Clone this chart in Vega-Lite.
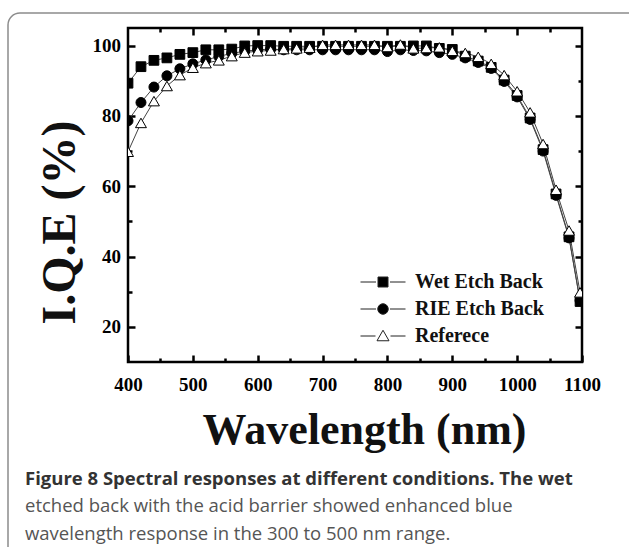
{
  "$schema": "https://vega.github.io/schema/vega-lite/v6.json",
  "width": 454,
  "height": 334,
  "autosize": "none",
  "padding": {"left": 128, "top": 28, "right": 47, "bottom": 185},
  "background": "white",
  "config": {
    "view": {"stroke": "black", "strokeWidth": 2.5},
    "legend": {"strokeWidth": 1.5},
    "axis": {
      "domain": false, "grid": false,
      "labelFont": "Liberation Serif", "labelFontWeight": "bold", "labelFontSize": 19, "labelColor": "black",
      "titleFont": "Liberation Serif", "titleFontWeight": "bold", "titleColor": "#111"
    }
  },
  "datasets": {
    "iqe": [
      {"wl": 400, "s": "Wet Etch Back", "v": 89.3}, {"wl": 420, "s": "Wet Etch Back", "v": 94.0}, {"wl": 440, "s": "Wet Etch Back", "v": 95.8}, {"wl": 460, "s": "Wet Etch Back", "v": 96.5}, {"wl": 480, "s": "Wet Etch Back", "v": 97.5}, {"wl": 500, "s": "Wet Etch Back", "v": 98.0}, {"wl": 520, "s": "Wet Etch Back", "v": 98.8}, {"wl": 540, "s": "Wet Etch Back", "v": 98.8}, {"wl": 560, "s": "Wet Etch Back", "v": 99.0}, {"wl": 580, "s": "Wet Etch Back", "v": 99.9}, {"wl": 600, "s": "Wet Etch Back", "v": 100.0}, {"wl": 620, "s": "Wet Etch Back", "v": 100.0}, {"wl": 640, "s": "Wet Etch Back", "v": 99.8}, {"wl": 660, "s": "Wet Etch Back", "v": 99.8}, {"wl": 680, "s": "Wet Etch Back", "v": 99.8}, {"wl": 700, "s": "Wet Etch Back", "v": 99.8}, {"wl": 720, "s": "Wet Etch Back", "v": 99.8}, {"wl": 740, "s": "Wet Etch Back", "v": 99.8}, {"wl": 760, "s": "Wet Etch Back", "v": 99.8}, {"wl": 780, "s": "Wet Etch Back", "v": 99.8}, {"wl": 800, "s": "Wet Etch Back", "v": 99.8}, {"wl": 820, "s": "Wet Etch Back", "v": 99.8}, {"wl": 840, "s": "Wet Etch Back", "v": 99.9}, {"wl": 860, "s": "Wet Etch Back", "v": 99.9}, {"wl": 880, "s": "Wet Etch Back", "v": 99.2}, {"wl": 900, "s": "Wet Etch Back", "v": 98.9}, {"wl": 920, "s": "Wet Etch Back", "v": 97.0}, {"wl": 940, "s": "Wet Etch Back", "v": 95.6}, {"wl": 960, "s": "Wet Etch Back", "v": 93.8}, {"wl": 980, "s": "Wet Etch Back", "v": 90.2}, {"wl": 1000, "s": "Wet Etch Back", "v": 85.8}, {"wl": 1020, "s": "Wet Etch Back", "v": 79.4}, {"wl": 1040, "s": "Wet Etch Back", "v": 70.4}, {"wl": 1060, "s": "Wet Etch Back", "v": 57.8}, {"wl": 1080, "s": "Wet Etch Back", "v": 45.6}, {"wl": 1097, "s": "Wet Etch Back", "v": 27.2},
      {"wl": 400, "s": "RIE Etch Back", "v": 78.6}, {"wl": 420, "s": "RIE Etch Back", "v": 83.8}, {"wl": 440, "s": "RIE Etch Back", "v": 88.2}, {"wl": 460, "s": "RIE Etch Back", "v": 91.4}, {"wl": 480, "s": "RIE Etch Back", "v": 93.4}, {"wl": 500, "s": "RIE Etch Back", "v": 94.8}, {"wl": 520, "s": "RIE Etch Back", "v": 95.9}, {"wl": 540, "s": "RIE Etch Back", "v": 96.9}, {"wl": 560, "s": "RIE Etch Back", "v": 97.8}, {"wl": 580, "s": "RIE Etch Back", "v": 98.4}, {"wl": 600, "s": "RIE Etch Back", "v": 98.8}, {"wl": 620, "s": "RIE Etch Back", "v": 99.0}, {"wl": 640, "s": "RIE Etch Back", "v": 98.8}, {"wl": 660, "s": "RIE Etch Back", "v": 98.8}, {"wl": 680, "s": "RIE Etch Back", "v": 98.8}, {"wl": 700, "s": "RIE Etch Back", "v": 98.8}, {"wl": 720, "s": "RIE Etch Back", "v": 98.8}, {"wl": 740, "s": "RIE Etch Back", "v": 98.8}, {"wl": 760, "s": "RIE Etch Back", "v": 98.8}, {"wl": 780, "s": "RIE Etch Back", "v": 98.8}, {"wl": 800, "s": "RIE Etch Back", "v": 98.3}, {"wl": 820, "s": "RIE Etch Back", "v": 98.8}, {"wl": 840, "s": "RIE Etch Back", "v": 98.6}, {"wl": 860, "s": "RIE Etch Back", "v": 98.5}, {"wl": 880, "s": "RIE Etch Back", "v": 98.0}, {"wl": 900, "s": "RIE Etch Back", "v": 97.5}, {"wl": 920, "s": "RIE Etch Back", "v": 96.5}, {"wl": 940, "s": "RIE Etch Back", "v": 95.2}, {"wl": 960, "s": "RIE Etch Back", "v": 93.5}, {"wl": 980, "s": "RIE Etch Back", "v": 89.8}, {"wl": 1000, "s": "RIE Etch Back", "v": 85.4}, {"wl": 1020, "s": "RIE Etch Back", "v": 79.0}, {"wl": 1040, "s": "RIE Etch Back", "v": 70.0}, {"wl": 1060, "s": "RIE Etch Back", "v": 57.4}, {"wl": 1080, "s": "RIE Etch Back", "v": 45.3}, {"wl": 1097, "s": "RIE Etch Back", "v": 27.5},
      {"wl": 400, "s": "Referece", "v": 69.8}, {"wl": 420, "s": "Referece", "v": 78.0}, {"wl": 440, "s": "Referece", "v": 84.2}, {"wl": 460, "s": "Referece", "v": 88.5}, {"wl": 480, "s": "Referece", "v": 91.6}, {"wl": 500, "s": "Referece", "v": 93.7}, {"wl": 520, "s": "Referece", "v": 95.0}, {"wl": 540, "s": "Referece", "v": 95.8}, {"wl": 560, "s": "Referece", "v": 97.0}, {"wl": 580, "s": "Referece", "v": 98.0}, {"wl": 600, "s": "Referece", "v": 98.4}, {"wl": 620, "s": "Referece", "v": 98.6}, {"wl": 640, "s": "Referece", "v": 99.0}, {"wl": 660, "s": "Referece", "v": 99.2}, {"wl": 680, "s": "Referece", "v": 99.4}, {"wl": 700, "s": "Referece", "v": 100.2}, {"wl": 720, "s": "Referece", "v": 100.2}, {"wl": 740, "s": "Referece", "v": 100.2}, {"wl": 760, "s": "Referece", "v": 100.2}, {"wl": 780, "s": "Referece", "v": 100.2}, {"wl": 800, "s": "Referece", "v": 99.6}, {"wl": 820, "s": "Referece", "v": 100.3}, {"wl": 840, "s": "Referece", "v": 99.2}, {"wl": 860, "s": "Referece", "v": 99.3}, {"wl": 880, "s": "Referece", "v": 99.5}, {"wl": 900, "s": "Referece", "v": 98.5}, {"wl": 920, "s": "Referece", "v": 97.9}, {"wl": 940, "s": "Referece", "v": 96.8}, {"wl": 960, "s": "Referece", "v": 94.8}, {"wl": 980, "s": "Referece", "v": 91.6}, {"wl": 1000, "s": "Referece", "v": 87.0}, {"wl": 1020, "s": "Referece", "v": 81.0}, {"wl": 1040, "s": "Referece", "v": 72.0}, {"wl": 1060, "s": "Referece", "v": 59.0}, {"wl": 1080, "s": "Referece", "v": 47.4}, {"wl": 1097, "s": "Referece", "v": 29.8}
    ]
  },
  "data": {"name": "iqe"},
  "title": {
    "text": ["Figure 8 Spectral responses at different conditions. The wet"],
    "subtitle": ["etched back with the acid barrier showed enhanced blue", "wavelength response in the 300 to 500 nm range."],
    "orient": "bottom",
    "anchor": "start",
    "frame": "group",
    "dx": -103,
    "offset": -175,
    "font": "Open Sans",
    "fontSize": 18.5,
    "fontWeight": "bold",
    "color": "#333",
    "subtitleFont": "Open Sans",
    "subtitleFontSize": 18.5,
    "subtitleFontWeight": "normal",
    "subtitleColor": "#555",
    "subtitleLineHeight": 27.5,
    "subtitlePadding": 9
  },
  "resolve": {"axis": {"x": "independent", "y": "independent"}},
  "layer": [
    {
      "transform": [{"filter": "datum.s === 'Wet Etch Back'"}],
      "mark": {"type": "line", "stroke": "#444", "strokeWidth": 1, "clip": true},
      "encoding": {
        "x": {"field": "wl", "type": "quantitative", "scale": {"domain": [400, 1100], "nice": false, "zero": false},
          "axis": {"orient": "bottom", "values": [400, 500, 600, 700, 800, 900, 1000, 1100], "format": "d", "offset": -7, "ticks": true, "tickSize": 7, "tickColor": "black", "tickWidth": 2.5, "labelPadding": 13,
            "title": "Wavelength (nm)", "titleFontSize": 44, "titleX": 236, "titleY": 88, "titleAlign": "center", "titleBaseline": "alphabetic", "labelFlush": false}},
        "y": {"field": "v", "type": "quantitative", "scale": {"domain": [10, 105], "nice": false, "zero": false},
          "axis": {"orient": "left", "values": [20, 40, 60, 80, 100], "offset": -7, "ticks": true, "tickSize": 7, "tickColor": "black", "tickWidth": 2.5, "labelPadding": 7.5,
            "title": "I.Q.E (%)", "titleFontSize": 48, "titleX": -75, "titleY": 194, "titleAngle": -90, "titleAlign": "center", "titleBaseline": "middle", "labelFlush": false}}
      }
    },
    {
      "transform": [{"filter": "datum.s === 'RIE Etch Back'"}],
      "mark": {"type": "line", "stroke": "#444", "strokeWidth": 1, "clip": true},
      "encoding": {
        "x": {"field": "wl", "type": "quantitative",
          "axis": {"orient": "bottom", "values": [450, 550, 650, 750, 850, 950, 1050], "offset": -4, "ticks": true, "tickSize": 4, "tickColor": "black", "tickWidth": 2.5, "labels": false, "title": null}},
        "y": {"field": "v", "type": "quantitative",
          "axis": {"orient": "left", "values": [30, 50, 70, 90], "offset": -4, "ticks": true, "tickSize": 4, "tickColor": "black", "tickWidth": 2.5, "labels": false, "title": null}}
      }
    },
    {
      "transform": [{"filter": "datum.s === 'Referece'"}],
      "mark": {"type": "line", "stroke": "#444", "strokeWidth": 1, "clip": true},
      "encoding": {
        "x": {"field": "wl", "type": "quantitative",
          "axis": {"orient": "top", "values": [450, 550, 650, 750, 850, 950, 1050], "offset": -4, "ticks": true, "tickSize": 4, "tickColor": "black", "tickWidth": 2.5, "labels": false, "title": null}},
        "y": {"field": "v", "type": "quantitative",
          "axis": {"orient": "right", "values": [30, 50, 70, 90], "offset": -4, "ticks": true, "tickSize": 4, "tickColor": "black", "tickWidth": 2.5, "labels": false, "title": null}}
      }
    },
    {
      "transform": [{"filter": "datum.s === 'Wet Etch Back'"}],
      "mark": {"type": "point", "shape": "square", "filled": true, "fill": "black", "stroke": "black", "strokeWidth": 1, "opacity": 1, "size": 95, "clip": true},
      "encoding": {
        "x": {"field": "wl", "type": "quantitative",
          "axis": {"orient": "top", "values": [500, 600, 700, 800, 900, 1000], "offset": -7, "ticks": true, "tickSize": 7, "tickColor": "black", "tickWidth": 2.5, "labels": false, "title": null}},
        "y": {"field": "v", "type": "quantitative",
          "axis": {"orient": "right", "values": [20, 40, 60, 80, 100], "offset": -7, "ticks": true, "tickSize": 7, "tickColor": "black", "tickWidth": 2.5, "labels": false, "title": null}}
      }
    },
    {
      "transform": [{"filter": "datum.s === 'RIE Etch Back'"}],
      "mark": {"type": "point", "shape": "circle", "filled": true, "fill": "black", "stroke": "black", "strokeWidth": 1, "opacity": 1, "size": 100, "clip": true},
      "encoding": {
        "x": {"field": "wl", "type": "quantitative", "axis": null},
        "y": {"field": "v", "type": "quantitative", "axis": null}
      }
    },
    {
      "transform": [{"filter": "datum.s === 'Referece'"}],
      "mark": {"type": "point", "shape": "triangle-up", "filled": true, "fill": "white", "stroke": "black", "strokeWidth": 1, "opacity": 1, "size": 120, "clip": true},
      "encoding": {
        "x": {"field": "wl", "type": "quantitative", "axis": null},
        "y": {"field": "v", "type": "quantitative", "axis": null}
      }
    },
    {
      "transform": [{"filter": "false"}],
      "mark": {"type": "point", "filled": false, "stroke": "#222", "strokeWidth": 1, "opacity": 1},
      "encoding": {
        "x": {"field": "wl", "type": "quantitative", "axis": null},
        "y": {"field": "v", "type": "quantitative", "axis": null},
        "shape": {"field": "s", "type": "nominal",
          "scale": {"domain": ["Wet Etch Back", "RIE Etch Back", "Referece"],
            "range": ["M-4.5,0H-1.4M-1,-1H1V1H-1ZM1.4,0H4.5", "M-4.5,0H-1.4M1.4,0H4.5M-1.05,0A1.05,1.05,0,1,1,1.05,0A1.05,1.05,0,1,1,-1.05,0Z", "M-4.5,0H-1.5M1.5,0H4.5M0,-1.15L1.2,0.95H-1.2Z"]},
          "legend": {
            "title": null, "orient": "none", "legendX": 245, "legendY": 244, "padding": 0,
            "symbolSize": 100, "symbolStrokeWidth": 1,
            "labelFont": "Liberation Serif", "labelFontWeight": "bold", "labelFontSize": 20, "labelColor": "#111",
            "labelOffset": 22, "rowPadding": 7, "labelLimit": 300
          }},
        "fill": {"field": "s", "type": "nominal",
          "scale": {"domain": ["Wet Etch Back", "RIE Etch Back", "Referece"], "range": ["black", "black", "white"]}}
      }
    },
    {
      "transform": [{"filter": "false"}],
      "mark": {"type": "line", "strokeWidth": 1},
      "encoding": {
        "x": {"field": "wl", "type": "quantitative", "axis": null},
        "y": {"field": "v", "type": "quantitative", "axis": null},
        "strokeDash": {"field": "s", "type": "nominal",
          "scale": {"domain": ["box"], "range": [[1, 0]]},
          "legend": {
            "title": null, "orient": "none", "legendX": -120, "legendY": -15, "padding": 315,
            "strokeColor": "#8c8c8c", "cornerRadius": 12,
            "labelExpr": "''", "labelFontSize": 1, "symbolOpacity": 0, "symbolSize": 1, "symbolStrokeWidth": 0
          }}
      }
    }
  ]
}
